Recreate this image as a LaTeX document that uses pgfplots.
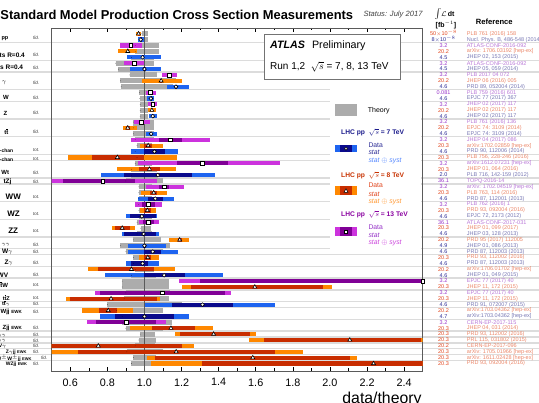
\documentclass[border=0pt]{standalone}
\usepackage{pgfplots}
\pgfplotsset{compat=1.18}
\usepackage{pgfplotstable}
\usepackage{fontspec}
\setmainfont{Liberation Sans}

\newcommand{\fs}[1]{\fontsize{#1}{#1}\selectfont}
\newcommand{\ttbar}{t\ensuremath{\overline{\mbox{t}}}}

\definecolor{theo}{RGB}{172,172,172}
\definecolor{tot13}{RGB}{204,51,221}
\definecolor{sta13}{RGB}{128,0,150}
\definecolor{tot8}{RGB}{255,136,0}
\definecolor{sta8}{RGB}{200,45,0}
\definecolor{tot7}{RGB}{30,100,240}
\definecolor{sta7}{RGB}{10,10,140}
\definecolor{lum13}{RGB}{150,50,200}
\definecolor{ref13}{RGB}{185,120,215}
\definecolor{lum8}{RGB}{225,70,30}
\definecolor{ref8}{RGB}{235,135,105}
\definecolor{lum7}{RGB}{45,45,150}
\definecolor{ref7}{RGB}{120,120,180}
\definecolor{hdr13}{RGB}{138,0,160}
\definecolor{hdr8}{RGB}{200,50,0}
\definecolor{hdr7}{RGB}{26,26,140}
\definecolor{sys13}{RGB}{204,68,221}
\definecolor{sys8}{RGB}{255,153,51}
\definecolor{sys7}{RGB}{85,136,255}
\definecolor{sep}{RGB}{220,220,220}
\definecolor{frame}{RGB}{90,90,90}

% theory band per row: r = row, lo/hi = band edges (ratio)
\pgfplotstableread{
r lo hi
1 0.986 1.020
2 0.986 1.020
3 0.950 1.076
4 0.950 1.076
5 0.930 1.050
6 0.845 1.050
7 0.860 1.010
8 0.920 1.070
9 0.870 1.170
10 0.874 1.155
11 0.973 1.030
12 0.975 1.025
13 0.977 1.020
14 0.977 1.020
15 0.977 1.020
16 0.940 1.050
17 0.940 1.050
18 0.940 1.050
19 0.950 1.050
20 0.960 1.040
21 0.950 1.050
22 0.960 1.040
23 0.950 1.040
24 0.930 1.070
25 0.930 1.070
26 0.900 1.100
27 0.970 1.040
28 0.970 1.040
29 0.970 1.040
30 0.970 1.040
31 0.970 1.040
32 0.970 1.040
33 0.960 1.040
34 0.980 1.036
35 0.960 1.040
36 0.940 1.090
37 0.870 1.140
38 0.900 1.100
39 0.940 1.060
40 0.940 1.060
41 0.950 1.050
42 0.930 1.060
43 0.880 1.130
44 0.880 1.130
45 0.900 1.140
46 0.890 1.130
47 0.800 1.200
48 0.850 1.100
49 0.880 1.100
50 0.880 1.150
51 0.900 1.100
52 0.977 1.058
53 0.970 1.060
54 0.950 1.058
55 0.905 1.100
56 0.940 1.060
57 0.930 1.060
}\theory

% 13 TeV: v = data/theory, tlo/thi = stat+syst, slo/shi = stat
\pgfplotstableread{
r v tlo thi slo shi
3 0.926 0.868 0.986 0.921 0.931
6 0.946 0.890 1.000 0.941 0.951
8 1.134 1.094 1.177 1.130 1.138
11 1.030 1.007 1.063 1.026 1.034
13 1.045 1.020 1.070 1.043 1.047
16 0.984 0.944 1.030 0.976 0.992
19 1.140 0.930 1.355 1.080 1.200
23 1.310 0.965 1.730 1.175 1.450
26 0.775 0.450 1.067 0.560 0.950
27 1.108 1.008 1.215 1.080 1.135
30 1.020 0.950 1.094 0.985 1.055
33 1.020 0.968 1.076 0.990 1.050
43 2.500 1.184 3.800 1.300 3.700
45 1.097 0.733 1.465 0.760 1.435
50 0.900 0.690 1.116 0.740 1.060
}\dataXIII

% 8 TeV
\pgfplotstableread{
r v tlo thi slo shi
1 0.968 0.955 0.981 0.965 0.971
4 0.910 0.860 0.960 0.905 0.915
9 1.090 0.986 1.200 1.085 1.095
14 1.040 1.020 1.062 1.038 1.042
17 0.910 0.885 0.960 0.900 0.920
20 1.020 0.977 1.100 1.000 1.040
22 0.854 0.590 1.175 0.716 0.995
24 1.027 0.854 1.170 0.973 1.085
28 1.050 0.982 1.120 1.030 1.070
31 1.016 0.977 1.062 1.000 1.035
34 0.880 0.824 0.950 0.840 0.920
36 1.190 1.134 1.240 1.180 1.200
39 1.018 0.968 1.076 1.000 1.035
41 0.930 0.697 1.166 0.750 1.054
44 1.595 1.205 2.013 1.252 1.964
46 0.820 0.575 1.085 0.600 1.067
48 0.805 0.665 0.940 0.755 0.850
51 1.143 0.920 1.367 1.040 1.270
52 1.373 1.163 1.600 1.190 1.570
53 2.107 1.563 2.600 1.645 2.490
54 0.751 0.400 1.265 0.450 1.200
55 1.171 0.450 1.854 0.643 1.706
56 1.584 1.013 2.148 1.058 2.110
57 2.235 1.036 2.700 1.310 2.600
}\dataVIII

% 7 TeV
\pgfplotstableread{
r v tlo thi slo shi
2 0.980 0.965 0.995 0.978 0.982
5 0.990 0.905 1.090 0.985 0.995
7 1.000 0.920 1.090 0.990 1.010
10 1.170 1.120 1.240 1.165 1.175
12 1.035 1.013 1.052 1.033 1.037
15 1.045 1.025 1.065 1.043 1.047
18 1.036 1.010 1.070 1.030 1.042
21 1.054 0.930 1.180 1.000 1.110
25 1.072 0.764 1.382 0.890 1.256
29 1.058 0.964 1.157 1.020 1.100
32 0.986 0.900 1.070 0.920 1.060
35 0.995 0.878 1.076 0.890 1.060
37 1.000 0.910 1.115 0.990 1.010
38 1.045 0.910 1.180 1.000 1.090
40 0.990 0.899 1.080 0.930 1.020
42 1.106 0.787 1.424 0.995 1.220
47 1.313 1.004 1.706 1.150 1.480
49 1.000 0.760 1.240 0.840 1.157
}\dataVII

% horizontal bands drawn as thick error bars; the plot's own marks are invisible
\pgfplotsset{
  band/.style={only marks, mark=*, mark size=0.01pt, mark options={draw=none, fill=none}, forget plot,
    error bars/x dir=both, error bars/x explicit, error bars/error mark=none,
    error bars/error bar style={line width=#1}},
}

\begin{document}
\begin{tikzpicture}
\path[use as bounding box] (0,0) rectangle (539pt,403pt);

% group separators, behind everything
\begin{scope}[shift={(0pt,403pt)}, x=1pt, y=-1pt]
  \foreach \k in {2,5,7,10,12,15,18,21,22,25,26,29,32,35,37,38,40,42,44,46,47,49,51,52,53,54,55,56}
    \draw[sep, line width=1.3pt] (0,{33.7+(\k-0.5)*5.89}) -- (539,{33.7+(\k-0.5)*5.89});
\end{scope}

\begin{axis}[
  at={(51.7pt,32pt)}, anchor=south west,
  scale only axis, width=371pt, height=343pt,
  xmin=0.5, xmax=2.5, ymin=0.03, ymax=58.26, y dir=reverse,
  ytick=\empty,
  xtick={0.6,0.8,...,2.41}, minor xtick={0.7,0.9,...,2.41},
  tick pos=both, xticklabel pos=bottom, tick align=inside,
  major tick length=4pt, minor tick length=2.5pt,
  axis line style={frame, line width=0.9pt},
  every tick/.style={black, line width=0.6pt},
  x tick label style={font=\fs{10.8}, yshift=-4pt, /pgf/number format/.cd, fixed, fixed zerofill, precision=1, assume math mode=true},
]
% theory
\addplot[band=5pt, error bars/x dir=plus, error bars/error bar style={color=theo}]
  table[x=lo, y=r, x error plus expr=\thisrow{hi}-\thisrow{lo}, x error minus expr=0]{\theory};
\draw[frame, line width=0.8pt] (axis cs:1,0.03) -- (axis cs:1,58.26);
% stat (+) syst
\addplot[band=4.2pt, error bars/error bar style={color=tot13}]
  table[x=v, y=r, x error plus expr=\thisrow{thi}-\thisrow{v}, x error minus expr=\thisrow{v}-\thisrow{tlo}]{\dataXIII};
\addplot[band=4.2pt, error bars/error bar style={color=tot8}]
  table[x=v, y=r, x error plus expr=\thisrow{thi}-\thisrow{v}, x error minus expr=\thisrow{v}-\thisrow{tlo}]{\dataVIII};
\addplot[band=4.2pt, error bars/error bar style={color=tot7}]
  table[x=v, y=r, x error plus expr=\thisrow{thi}-\thisrow{v}, x error minus expr=\thisrow{v}-\thisrow{tlo}]{\dataVII};
% stat
\addplot[band=4.2pt, error bars/error bar style={color=sta13}]
  table[x=v, y=r, x error plus expr=\thisrow{shi}-\thisrow{v}, x error minus expr=\thisrow{v}-\thisrow{slo}]{\dataXIII};
\addplot[band=4.2pt, error bars/error bar style={color=sta8}]
  table[x=v, y=r, x error plus expr=\thisrow{shi}-\thisrow{v}, x error minus expr=\thisrow{v}-\thisrow{slo}]{\dataVIII};
\addplot[band=4.2pt, error bars/error bar style={color=sta7}]
  table[x=v, y=r, x error plus expr=\thisrow{shi}-\thisrow{v}, x error minus expr=\thisrow{v}-\thisrow{slo}]{\dataVII};
% central values
\addplot[only marks, mark=square*, mark size=1.9pt, mark options={fill=white, draw=black, line width=0.6pt}]
  table[x=v, y=r]{\dataXIII};
\addplot[only marks, mark=triangle*, mark size=2.3pt, mark options={fill=white, draw=black, line width=0.6pt}]
  table[x=v, y=r]{\dataVIII};
\addplot[only marks, mark=*, mark size=1.9pt, mark options={fill=white, draw=black, line width=0.6pt}]
  table[x=v, y=r]{\dataVII};
\end{axis}

\begin{scope}[shift={(0pt,403pt)}, x=1pt, y=-1pt, every node/.style={inner sep=0pt}]
  % title
  \node[anchor=west, font=\fs{12.9}\bfseries] at (0.3,15) {Standard Model Production Cross Section Measurements};
  \node[anchor=west, font=\fs{7.6}\itshape, text=black!75] at (363.3,15) {Status: July 2017};
  \node[anchor=base east, font=\fs{15.8}] at (421.7,404) {data/theory};

  % right-hand columns
  \node[font=\fs{7}\bfseries] at (444.5,14.5) {$\int\!\mathcal{L}$\,dt};
  \node[font=\fs{7}\bfseries] at (446,25) {[fb$^{-1}$]};
  \node[font=\fs{7.6}\bfseries] at (494.3,21.7) {Reference};
  \foreach \rw/\en/\lm/\rf in {
    1/8/{50$\times$10$^{-8}$}/{PLB 761 (2016) 158},
    2/7/{8$\times$10$^{-8}$}/{Nucl. Phys. B, 486-548 (2014)},
    3/13/{3.2}/{ATLAS-CONF-2016-092},
    4/8/{20.2}/{arXiv: 1706.03192 [hep-ex]},
    5/7/{4.5}/{JHEP 02, 153 (2015)},
    6/13/{3.2}/{ATLAS-CONF-2016-092},
    7/7/{4.5}/{JHEP 05, 059 (2014)},
    8/13/{3.2}/{PLB 2017 04 072},
    9/8/{20.2}/{JHEP 06 (2016) 005},
    10/7/{4.6}/{PRD 89, 052004 (2014)},
    11/13/{0.081}/{PLB 759 (2016) 601},
    12/7/{4.6}/{EPJC 77 (2017) 367},
    13/13/{3.2}/{JHEP 02 (2017) 117},
    14/8/{20.2}/{JHEP 02 (2017) 117},
    15/7/{4.6}/{JHEP 02 (2017) 117},
    16/13/{3.2}/{PLB 761 (2016) 136},
    17/8/{20.2}/{EPJC 74: 3109 (2014)},
    18/7/{4.6}/{EPJC 74: 3109 (2014)},
    19/13/{3.2}/{JHEP 04 (2017) 086},
    20/8/{20.3}/{arXiv:1702.02859 [hep-ex]},
    21/7/{4.6}/{PRD 90, 112006 (2014)},
    22/8/{20.3}/{PLB 756, 228-246 (2016)},
    23/13/{3.2}/{arXiv:1612.07231 [hep-ex]},
    24/8/{20.3}/{JHEP 01, 064 (2016)},
    25/7/{2.0}/{PLB 716, 142-159 (2012)},
    26/13/{36.1}/{TOPQ-2016-14},
    27/13/{3.2}/{arXiv: 1702.04519 [hep-ex]},
    28/8/{20.3}/{PLB 763, 114 (2016)},
    29/7/{4.6}/{PRD 87, 112001 (2013)},
    30/13/{3.2}/{PLB 762 (2016) 1},
    31/8/{20.3}/{PRD 93, 092004 (2016)},
    32/7/{4.6}/{EPJC 72, 2173 (2012)},
    33/13/{36.1}/{ATLAS-CONF-2017-031},
    34/8/{20.3}/{JHEP 01, 099 (2017)},
    35/7/{4.6}/{JHEP 03, 128 (2013)},
    36/8/{20.2}/{PRD 95 (2017) 112005},
    37/7/{4.9}/{JHEP 01, 086 (2013)},
    38/7/{4.6}/{PRD 87, 112003 (2013)},
    39/8/{20.3}/{PRD 93, 112002 (2016)},
    40/7/{4.6}/{PRD 87, 112003 (2013)},
    41/8/{20.2}/{arXiv:1706.01702 [hep-ex]},
    42/7/{4.6}/{JHEP 01, 049 (2015)},
    43/13/{3.2}/{EPJC 77 (2017) 40},
    44/8/{20.3}/{JHEP 11, 172 (2015)},
    45/13/{3.2}/{EPJC 77 (2017) 40},
    46/8/{20.3}/{JHEP 11, 172 (2015)},
    47/7/{4.6}/{PRD 91, 072007 (2015)},
    48/8/{20.2}/{arXiv:1703.04362 [hep-ex]},
    49/7/{4.7}/{arXiv:1703.04362 [hep-ex]},
    50/13/{3.2}/{CERN-EP-2017-115},
    51/8/{20.3}/{JHEP 04, 031 (2014)},
    52/8/{20.3}/{PRD 93, 112002 (2016)},
    53/8/{20.3}/{PRL 115, 031802 (2015)},
    54/8/{20.2}/{CERN-EP-2017-096},
    55/8/{20.3}/{arXiv: 1705.01966 [hep-ex]},
    56/8/{20.3}/{arXiv: 1611.02428 [hep-ex]},
    57/8/{20.3}/{PRD 93, 092004 (2016)}}{
    \node[text=lum\en, font=\fs{5.5}] at (443.5,{33.7+(\rw-1)*5.89}) {\lm};
    \node[anchor=west, text=ref\en, font=\fs{5.5}] at (466.7,{33.7+(\rw-1)*5.89}) {\rf};
  }

  % process names
  \begin{scope}[every node/.append style={anchor=east, font=\bfseries}]
    \node[font=\fs{5.5}\bfseries] at (8.5,38.3) {pp};
    \node[font=\fs{6.5}\bfseries] at (25,55) {Jets R=0.4};
    \node[font=\fs{6.5}\bfseries] at (23.3,68.3) {Dijets R=0.4};
    \node[font=\fs{6}\bfseries] at (6.5,82.7) {$\gamma$};
    \node[font=\fs{6}\bfseries] at (9,97.7) {W};
    \node[font=\fs{6}\bfseries] at (7.5,113.3) {Z};
    \node[font=\fs{6}\bfseries] at (8.5,131.7) {\ttbar};
    \node[font=\fs{5}\bfseries] at (14,150) {t\textsubscript{t-chan}};
    \node[font=\fs{5}\bfseries] at (14,159.3) {t\textsubscript{s-chan}};
    \node[font=\fs{6}\bfseries] at (9.3,172.7) {Wt};
    \node[font=\fs{6.5}\bfseries] at (11.7,182.3) {tZj};
    \node[font=\fs{8}\bfseries] at (21,196.7) {WW};
    \node[font=\fs{8}\bfseries] at (20,214) {WZ};
    \node[font=\fs{8}\bfseries] at (18.3,230.7) {ZZ};
    \node[font=\fs{5}\bfseries] at (10,245) {$\gamma\gamma$};
    \node[font=\fs{6.5}\bfseries] at (12.7,251.7) {W$\gamma$};
    \node[font=\fs{6.5}\bfseries] at (13,263.3) {Z$\gamma$};
    \node[font=\fs{6.5}\bfseries] at (8.3,275) {WV};
    \node[font=\fs{6}\bfseries] at (8.3,285) {\ttbar W};
    \node[font=\fs{5.5}\bfseries] at (10,297.8) {\ttbar Z};
    \node[font=\fs{5.5}\bfseries] at (10,303.6) {\ttbar$\gamma$};
    \node[font=\fs{6}\bfseries] at (22,311.7) {Wjj {\fs{4.5}EWK}};
    \node[font=\fs{6}\bfseries] at (22,328.3) {Zjj {\fs{4.5}EWK}};
    \node[font=\fs{5}\bfseries] at (6,335) {Z$\gamma\gamma$};
    \node[font=\fs{5}\bfseries] at (6,340.5) {W$\gamma\gamma$};
    \node[font=\fs{5}\bfseries] at (6.5,346) {WV$\gamma$};
    \node[font=\fs{5}\bfseries] at (26.7,352) {Z$\gamma$jj {\fs{4}EWK}};
    \node[font=\fs{5}\bfseries] at (31.7,358) {W$^{\pm}$W$^{\pm}$jj {\fs{4}EWK}};
    \node[font=\fs{5}\bfseries] at (27.3,364) {WZjj {\fs{4}EWK}};
  \end{scope}
  % fiducial / total
  \begin{scope}[every node/.append style={anchor=west, font=\fs{4.5}\itshape, text=black!80}]
    \foreach \yy in {38.3,55,68.3,82.7,97.7,113.3,131.7,172.7,182.3,245,251.7,263.3,275,303.6,311.7,328.3,335,340.5,346,352,364}
      \node at (33,\yy) {fid.};
    \foreach \yy in {150,159.3,196.7,214,230.7,285,297.8}
      \node at (33,\yy) {tot.};
    \node at (41,358) {fid.};
  \end{scope}

  % legend
  \fill[white] (330,84) rectangle (421,250);
  \fill[theo] (335,104.3) rectangle (356.7,116);
  \node[anchor=west, font=\fs{7}] at (367.7,111) {Theory};

  \node[anchor=west, font=\fs{6.7}\bfseries, text=hdr7] at (341,132.3) {LHC pp \ $\sqrt{s}$ = 7 TeV};
  \fill[tot7] (335,145) rectangle (356.7,152.3);
  \fill[sta7] (340,145) rectangle (351.7,152.3);
  \draw[fill=white, line width=0.5pt] (346,148.7) circle (1.5pt);
  \node[anchor=west, font=\fs{6.8}, text=lum7] at (368.3,145.7) {Data};
  \node[anchor=west, font=\fs{6.8}\itshape, text=lum7] at (368.3,152.3) {stat};
  \node[anchor=west, font=\fs{6.8}\itshape, text=sys7] at (368.3,160.7) {stat $\oplus$ syst};

  \node[anchor=west, font=\fs{6.7}\bfseries, text=hdr8] at (341,175) {LHC pp \ $\sqrt{s}$ = 8 TeV};
  \fill[tot8] (335,185.7) rectangle (356.7,195);
  \fill[sta8] (340,185.7) rectangle (351.7,195);
  \draw[fill=white, line width=0.5pt] (344.1,192.3) -- (347.9,192.3) -- (346,188.6) -- cycle;
  \node[anchor=west, font=\fs{6.8}, text=lum8] at (368.3,185.7) {Data};
  \node[anchor=west, font=\fs{6.8}\itshape, text=lum8] at (368.3,194) {stat};
  \node[anchor=west, font=\fs{6.8}\itshape, text=sys8] at (368.3,202.3) {stat $\oplus$ syst};

  \node[anchor=west, font=\fs{6.7}\bfseries, text=hdr13] at (341,214.3) {LHC pp \ $\sqrt{s}$ = 13 TeV};
  \fill[tot13] (335,227.3) rectangle (356.7,235.7);
  \fill[sta13] (340,227.3) rectangle (351.7,235.7);
  \draw[fill=white, line width=0.5pt] (344.4,229.9) rectangle (347.6,233.1);
  \node[anchor=west, font=\fs{6.8}, text=lum13] at (368.3,227.7) {Data};
  \node[anchor=west, font=\fs{6.8}\itshape, text=lum13] at (368.3,235.5) {stat};
  \node[anchor=west, font=\fs{6.8}\itshape, text=sys13] at (368.3,243) {stat $\oplus$ syst};

  % experiment box
  \draw[black!55, fill=white, line width=0.8pt] (264.3,34.3) rectangle (400.7,79);
  \node[anchor=west, font=\fs{10.7}] at (270,45.7) {\textbf{\textit{ATLAS}}\hspace{7pt}Preliminary};
  \node[anchor=west, font=\fs{10}] at (270,66.7) {Run 1,2 \ $\sqrt{s}$ = 7, 8, 13 TeV};
\end{scope}
\end{tikzpicture}
\end{document}
